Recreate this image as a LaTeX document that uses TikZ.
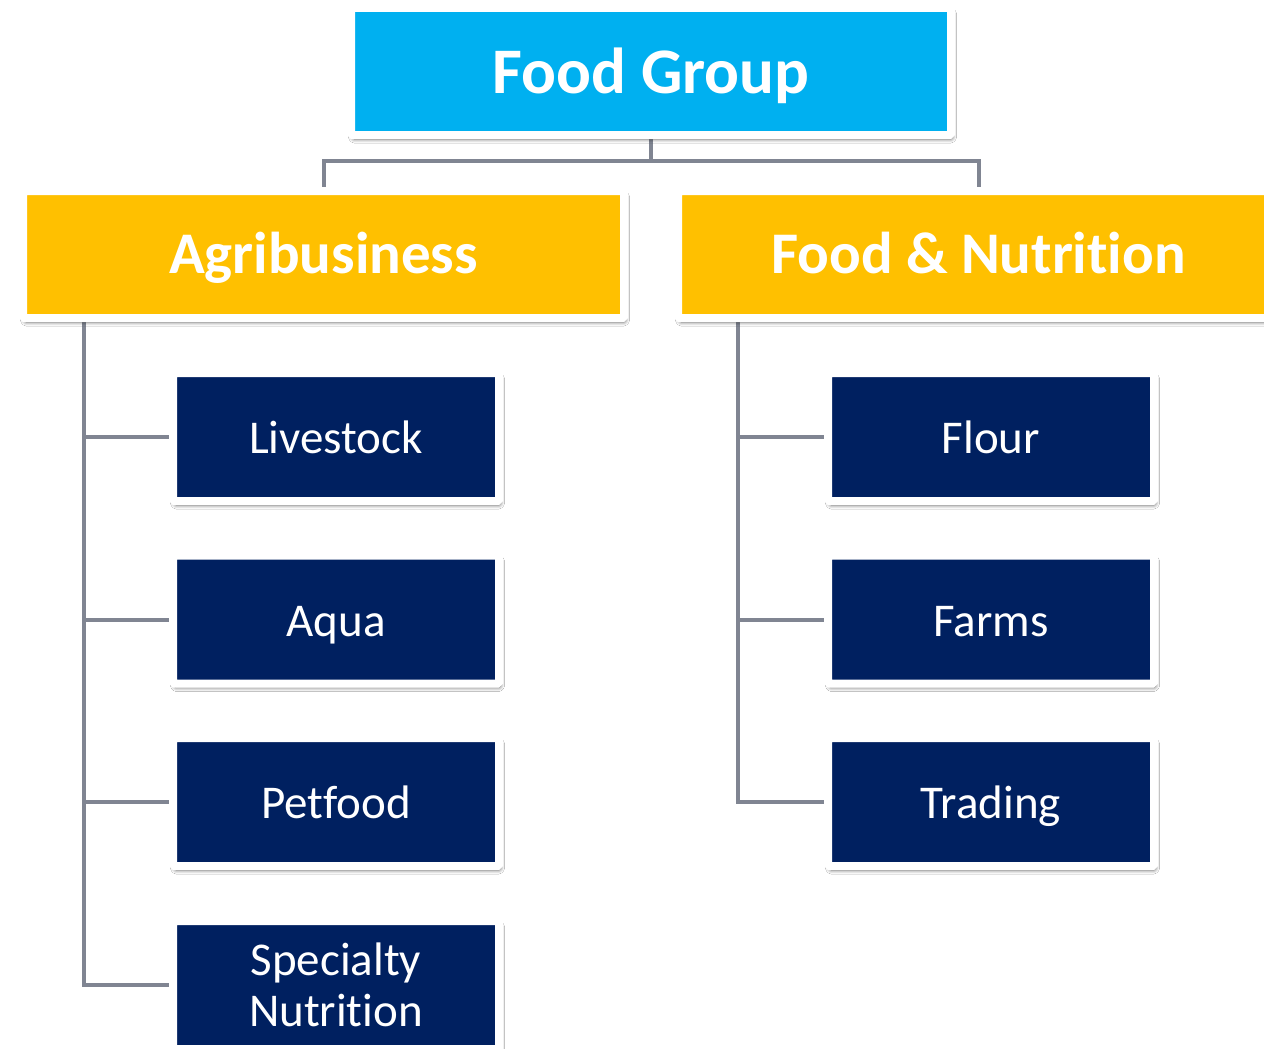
\documentclass[tikz,border=0pt]{standalone}
\usepackage{fontspec}
\setmainfont{Carlito}[Ligatures=NoCommon]
\usetikzlibrary{shadows.blur}
\pgfdeclarelayer{background}
\pgfsetlayers{background,main}
\definecolor{topblue}{RGB}{0,176,240}
\definecolor{gold}{RGB}{255,192,0}
\definecolor{navy}{RGB}{0,32,96}
\definecolor{conn}{RGB}{128,133,146}
\tikzset{
  box/.style={draw=white, line width=8pt, rounded corners=1.5pt, text=white, inner sep=0pt,
    blur shadow={shadow xshift=1.5pt, shadow yshift=-4pt, shadow blur steps=8, shadow blur radius=4pt, shadow opacity=60}},
  topbox/.style={box, fill=topblue, minimum width=600pt, minimum height=127pt, text height=43pt, text depth=0pt, font=\fontsize{65}{70}\selectfont\bfseries},
  midbox/.style={box, fill=gold, minimum width=601pt, minimum height=127pt, text height=37pt, text depth=0pt, font=\fontsize{59}{64}\selectfont\bfseries},
  leafbox/.style={box, fill=navy, minimum width=326pt, minimum height=128pt, font=\fontsize{47}{51}\selectfont, align=center},
  leafone/.style={leafbox, text height=33pt, text depth=0pt},
  link/.style={draw=conn, line width=4pt}
}
\begin{document}
\begin{tikzpicture}[x=1pt,y=-1pt]
\useasboundingbox (0,0) rectangle (1264,1049);
\clip (0,0) rectangle (1264,1049);
\node[topbox] (top) at (651,71.5) {Food Group};
\node[midbox] (agri) at (323.5,254.5) {Agribusiness};
\node[midbox] (fn) at (978.5,254.5) {Food \& Nutrition};
\node[leafone] (live) at (336,437) {Livestock};
\node[leafone] (aqua) at (336,619.5) {Aqua};
\node[leafone] (pet) at (336,802) {Petfood};
\node[leafbox] (spec) at (336,985) {Specialty\\Nutrition};
\node[leafone] (flour) at (991,437) {Flour};
\node[leafone] (farms) at (991,619.5) {Farms};
\node[leafone] (trade) at (991,802) {Trading};
\coordinate (j) at (651,161);
\coordinate (ls) at (84,318);
\coordinate (rs) at (738,318);
\begin{pgfonlayer}{background}
\fill[white] (0,0) rectangle (1264,1049);
\draw[link] (top.south) -- (j);
\draw[link] (j) -| (agri.north);
\draw[link] (j) -| (fn.north);
\draw[link] (ls) |- (live.west);
\draw[link] (ls) |- (aqua.west);
\draw[link] (ls) |- (pet.west);
\draw[link] (ls) |- (spec.west);
\draw[link] (rs) |- (flour.west);
\draw[link] (rs) |- (farms.west);
\draw[link] (rs) |- (trade.west);
\end{pgfonlayer}
\end{tikzpicture}
\end{document}
